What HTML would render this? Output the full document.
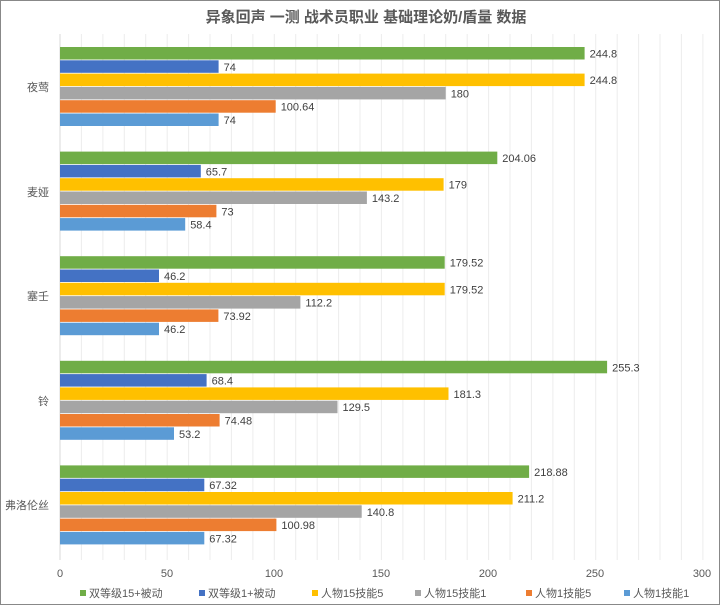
<!DOCTYPE html><html><head><meta charset="utf-8"><style>body{margin:0;background:#fff}svg{display:block}text{font-family:"Liberation Sans","Noto Sans CJK SC",sans-serif}</style></head><body>
<svg width="720" height="605" viewBox="0 0 720 605">
<rect x="0.5" y="0.5" width="719" height="604" fill="#fff" stroke="#888"/>
<text x="366" y="22" font-size="15" font-weight="bold" fill="#595959" text-anchor="middle">异象回声 一测 战术员职业 基础理论奶/盾量 数据</text>
<g stroke="#ececec" stroke-width="1">
<line x1="81.4" y1="34" x2="81.4" y2="560"/><line x1="102.9" y1="34" x2="102.9" y2="560"/><line x1="124.3" y1="34" x2="124.3" y2="560"/><line x1="145.7" y1="34" x2="145.7" y2="560"/><line x1="167.2" y1="34" x2="167.2" y2="560"/><line x1="188.6" y1="34" x2="188.6" y2="560"/><line x1="210" y1="34" x2="210" y2="560"/><line x1="231.4" y1="34" x2="231.4" y2="560"/><line x1="252.9" y1="34" x2="252.9" y2="560"/><line x1="274.3" y1="34" x2="274.3" y2="560"/><line x1="295.7" y1="34" x2="295.7" y2="560"/><line x1="317.2" y1="34" x2="317.2" y2="560"/><line x1="338.6" y1="34" x2="338.6" y2="560"/><line x1="360" y1="34" x2="360" y2="560"/><line x1="381.4" y1="34" x2="381.4" y2="560"/><line x1="402.9" y1="34" x2="402.9" y2="560"/><line x1="424.3" y1="34" x2="424.3" y2="560"/><line x1="445.7" y1="34" x2="445.7" y2="560"/><line x1="467.2" y1="34" x2="467.2" y2="560"/><line x1="488.6" y1="34" x2="488.6" y2="560"/><line x1="510" y1="34" x2="510" y2="560"/><line x1="531.4" y1="34" x2="531.4" y2="560"/><line x1="552.9" y1="34" x2="552.9" y2="560"/><line x1="574.3" y1="34" x2="574.3" y2="560"/><line x1="595.7" y1="34" x2="595.7" y2="560"/><line x1="617.2" y1="34" x2="617.2" y2="560"/><line x1="638.6" y1="34" x2="638.6" y2="560"/><line x1="660" y1="34" x2="660" y2="560"/><line x1="681.4" y1="34" x2="681.4" y2="560"/><line x1="702.9" y1="34" x2="702.9" y2="560"/>
</g>
<line x1="60" y1="34" x2="60" y2="560" stroke="#d9d9d9"/>
<g>
<rect x="60" y="47" width="524.6" height="12.5" fill="#70ad47"/><rect x="60" y="60.3" width="158.6" height="12.5" fill="#4472c4"/><rect x="60" y="73.6" width="524.6" height="12.5" fill="#ffc000"/><rect x="60" y="86.9" width="385.7" height="12.5" fill="#a5a5a5"/><rect x="60" y="100.2" width="215.7" height="12.5" fill="#ed7d31"/><rect x="60" y="113.5" width="158.6" height="12.5" fill="#5b9bd5"/>
<rect x="60" y="151.6" width="437.3" height="12.5" fill="#70ad47"/><rect x="60" y="164.9" width="140.8" height="12.5" fill="#4472c4"/><rect x="60" y="178.2" width="383.6" height="12.5" fill="#ffc000"/><rect x="60" y="191.5" width="306.9" height="12.5" fill="#a5a5a5"/><rect x="60" y="204.8" width="156.4" height="12.5" fill="#ed7d31"/><rect x="60" y="218.1" width="125.2" height="12.5" fill="#5b9bd5"/>
<rect x="60" y="256.2" width="384.7" height="12.5" fill="#70ad47"/><rect x="60" y="269.5" width="99" height="12.5" fill="#4472c4"/><rect x="60" y="282.8" width="384.7" height="12.5" fill="#ffc000"/><rect x="60" y="296.1" width="240.4" height="12.5" fill="#a5a5a5"/><rect x="60" y="309.4" width="158.4" height="12.5" fill="#ed7d31"/><rect x="60" y="322.7" width="99" height="12.5" fill="#5b9bd5"/>
<rect x="60" y="360.8" width="547.1" height="12.5" fill="#70ad47"/><rect x="60" y="374.1" width="146.6" height="12.5" fill="#4472c4"/><rect x="60" y="387.4" width="388.5" height="12.5" fill="#ffc000"/><rect x="60" y="400.7" width="277.5" height="12.5" fill="#a5a5a5"/><rect x="60" y="414" width="159.6" height="12.5" fill="#ed7d31"/><rect x="60" y="427.3" width="114" height="12.5" fill="#5b9bd5"/>
<rect x="60" y="465.4" width="469.1" height="12.5" fill="#70ad47"/><rect x="60" y="478.7" width="144.3" height="12.5" fill="#4472c4"/><rect x="60" y="492" width="452.6" height="12.5" fill="#ffc000"/><rect x="60" y="505.3" width="301.7" height="12.5" fill="#a5a5a5"/><rect x="60" y="518.6" width="216.4" height="12.5" fill="#ed7d31"/><rect x="60" y="531.9" width="144.3" height="12.5" fill="#5b9bd5"/>
</g>
<g font-size="11" fill="#404040">
<text x="589.6" y="57.5">244.8</text><text x="223.6" y="70.8">74</text><text x="589.6" y="84.1">244.8</text><text x="450.7" y="97.4">180</text><text x="280.7" y="110.7">100.64</text><text x="223.6" y="124">74</text>
<text x="502.3" y="162.1">204.06</text><text x="205.8" y="175.4">65.7</text><text x="448.6" y="188.7">179</text><text x="371.9" y="202">143.2</text><text x="221.4" y="215.3">73</text><text x="190.2" y="228.6">58.4</text>
<text x="449.7" y="266.7">179.52</text><text x="164" y="280">46.2</text><text x="449.7" y="293.3">179.52</text><text x="305.4" y="306.6">112.2</text><text x="223.4" y="319.9">73.92</text><text x="164" y="333.2">46.2</text>
<text x="612.1" y="371.3">255.3</text><text x="211.6" y="384.6">68.4</text><text x="453.5" y="397.9">181.3</text><text x="342.5" y="411.2">129.5</text><text x="224.6" y="424.5">74.48</text><text x="179" y="437.8">53.2</text>
<text x="534.1" y="475.9">218.88</text><text x="209.3" y="489.2">67.32</text><text x="517.6" y="502.5">211.2</text><text x="366.7" y="515.8">140.8</text><text x="281.4" y="529.1">100.98</text><text x="209.3" y="542.4">67.32</text>
</g>
<g font-size="11" fill="#595959" text-anchor="end">
<text x="49" y="91">夜莺</text><text x="49" y="196">麦娅</text><text x="49" y="300">塞壬</text><text x="49" y="405">铃</text><text x="49" y="509">弗洛伦丝</text>
</g>
<g font-size="11" fill="#595959" text-anchor="middle">
<text x="60" y="577">0</text><text x="167" y="577">50</text><text x="274" y="577">100</text><text x="381" y="577">150</text><text x="488" y="577">200</text><text x="595" y="577">250</text><text x="702" y="577">300</text>
</g>
<g font-size="11" fill="#595959">
<rect x="80" y="590" width="6" height="6" fill="#70ad47"/><text x="89" y="597">双等级15+被动</text>
<rect x="199" y="590" width="6" height="6" fill="#4472c4"/><text x="208" y="597">双等级1+被动</text>
<rect x="312" y="590" width="6" height="6" fill="#ffc000"/><text x="321" y="597">人物15技能5</text>
<rect x="415" y="590" width="6" height="6" fill="#a5a5a5"/><text x="424" y="597">人物15技能1</text>
<rect x="526" y="590" width="6" height="6" fill="#ed7d31"/><text x="535" y="597">人物1技能5</text>
<rect x="624" y="590" width="6" height="6" fill="#5b9bd5"/><text x="633" y="597">人物1技能1</text>
</g>
</svg></body></html>
